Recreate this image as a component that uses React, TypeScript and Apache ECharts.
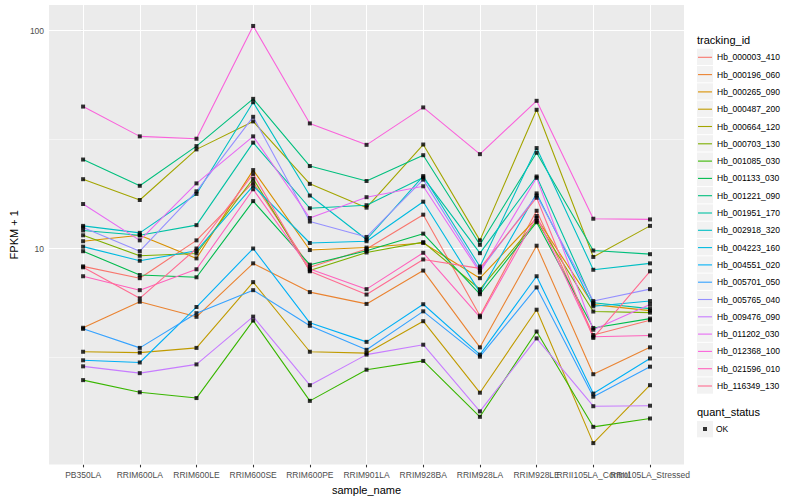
import React, { useEffect, useRef } from "react";
import * as echarts from "echarts";

const samples = [
  "PB350LA", "RRIM600LA", "RRIM600LE", "RRIM600SE", "RRIM600PE", "RRIM901LA",
  "RRIM928BA", "RRIM928LA", "RRIM928LE", "RRII105LA_Control", "RRII105LA_Stressed",
];

const trackingIds = [
  "Hb_000003_410", "Hb_000196_060", "Hb_000265_090", "Hb_000487_200", "Hb_000664_120",
  "Hb_000703_130", "Hb_001085_030", "Hb_001133_030", "Hb_001221_090", "Hb_001951_170",
  "Hb_002918_320", "Hb_004223_160", "Hb_004551_020", "Hb_005701_050", "Hb_005765_040",
  "Hb_009476_090", "Hb_011202_030", "Hb_012368_100", "Hb_021596_010", "Hb_116349_130",
];

const lineColors = [
  "#F8766D", "#EA8331", "#D89000", "#C09B00", "#A3A500", "#7CAE00", "#39B600", "#00BB4E",
  "#00BF7D", "#00C1A3", "#00BFC4", "#00BAE0", "#00B0F6", "#35A2FF", "#9590FF", "#C77CFF",
  "#E76BF3", "#FA62DB", "#FF62BC", "#FF6C91",
];

// FPKM + 1 per sample (same order as samples)
const hb000003_410 = [8.28, 7.31, 10.9, 20.1, 8.2, 9.95, 14.3, 4.92, 14.9, 4.01, 4.69];
const hb000196_060 = [4.33, 5.7, 4.86, 8.55, 6.31, 5.57, 7.92, 3.52, 10.3, 2.65, 3.52];
const hb000265_090 = [10.8, 11.5, 9.01, 22.9, 9.84, 10.1, 10.6, 7.31, 13.8, 5.53, 5.19];
const hb000487_200 = [3.36, 3.33, 3.5, 7.01, 3.36, 3.31, 4.64, 2.18, 5.24, 1.28, 2.36];
const hb000664_120 = [20.8, 16.7, 28.5, 38.3, 19.8, 15.4, 30.0, 10.9, 43.3, 9.15, 12.7];
const hb000703_130 = [11.5, 9.26, 9.49, 20.9, 7.92, 9.59, 10.7, 6.5, 13.4, 5.14, 5.08];
const hb001085_030 = [2.49, 2.19, 2.06, 4.67, 2.0, 2.78, 3.05, 1.69, 4.16, 1.52, 1.66];
const hb001133_030 = [9.72, 7.56, 7.38, 16.5, 8.43, 9.76, 11.7, 6.17, 13.2, 4.32, 4.77];
const hb001221_090 = [25.6, 19.4, 29.5, 48.6, 23.9, 20.4, 26.8, 10.4, 27.5, 9.79, 9.42];
const hb001951_170 = [12.1, 11.5, 12.8, 30.6, 15.3, 15.8, 21.2, 9.52, 21.4, 5.64, 5.3];
const hb002918_320 = [12.7, 11.8, 17.8, 46.9, 17.5, 11.0, 21.5, 8.27, 28.9, 7.99, 8.55];
const hb004223_160 = [10.2, 8.79, 9.76, 19.4, 10.6, 10.8, 16.4, 6.29, 17.9, 5.43, 5.74];
const hb004551_020 = [3.07, 3.0, 5.39, 10.0, 4.56, 3.73, 5.55, 3.26, 7.46, 2.16, 3.13];
const hb005701_050 = [4.28, 3.5, 5.05, 6.44, 4.42, 3.43, 5.15, 3.19, 6.63, 2.09, 2.87];
const hb005765_040 = [12.5, 9.72, 18.3, 40.2, 13.3, 11.3, 20.7, 7.92, 17.5, 5.74, 6.51];
const hb009476_090 = [2.88, 2.68, 2.94, 4.87, 2.36, 3.26, 3.62, 1.79, 3.87, 1.89, 1.9];
const hb011202_030 = [16.0, 10.9, 19.9, 32.7, 13.8, 17.2, 19.3, 7.76, 21.1, 4.24, 5.53];
const hb012368_100 = [44.8, 32.7, 31.9, 105.0, 37.5, 29.9, 44.4, 27.1, 47.6, 13.7, 13.6];
const hb021596_010 = [7.46, 6.44, 8.03, 18.7, 8.05, 6.51, 9.56, 4.84, 14.1, 3.94, 3.99];
const hb116349_130 = [8.2, 5.91, 10.0, 22.0, 7.86, 6.15, 8.91, 8.11, 17.1, 3.89, 7.86];

const seriesValues = [
  hb000003_410, hb000196_060, hb000265_090, hb000487_200, hb000664_120,
  hb000703_130, hb001085_030, hb001133_030, hb001221_090, hb001951_170,
  hb002918_320, hb004223_160, hb004551_020, hb005701_050, hb005765_040,
  hb009476_090, hb011202_030, hb012368_100, hb021596_010, hb116349_130,
];

const yMajor = [10, 100];
const yMinor = [3.162, 31.62];
const statusLabel = "OK";

const FONT = "'Liberation Sans', Arial, Helvetica, sans-serif";
const LEGEND_LINE_ICON = "path://M0,0 L14,0 L14,1.1 L0,1.1 Z";

export default function App() {
  const ref = useRef<HTMLDivElement>(null);

  useEffect(() => {
    if (!ref.current) return;
    const chart = echarts.init(ref.current, undefined, { renderer: "svg" });
    const xIdx = samples.map((_, i) => i);
    const evenIdx = xIdx.filter((i) => i % 2 === 0);
    const oddIdx = xIdx.filter((i) => i % 2 === 1);

    const lineSeries = trackingIds.map((name, k) => ({
      name,
      type: "line",
      xAxisIndex: 0,
      data: seriesValues[k].map((v, i) => [i, v]),
      symbol: "none",
      lineStyle: { color: lineColors[k], width: 1.1 },
      itemStyle: { color: lineColors[k] },
      z: 2,
      silent: true,
      emphasis: { disabled: true },
    }));

    const pointData: number[][] = [];
    seriesValues.forEach((arr) => arr.forEach((v, i) => pointData.push([i, v])));

    const gridLineData = [
      ...yMajor.map((v) => ({ yAxis: v, lineStyle: { width: 1.07 } })),
      ...yMinor.map((v) => ({ yAxis: v, lineStyle: { width: 0.53 } })),
      ...xIdx.map((i) => ({ xAxis: i, lineStyle: { width: 1.07 } })),
    ];

    const keyRects = trackingIds.map((_, i) => ({
      type: "rect",
      shape: { x: 697, y: 48.7 + 17.3 * i, width: 16, height: 16.3 },
      style: { fill: "#F2F2F2" },
      z: 0,
      silent: true,
    }));

    const makeXAxis = (ticks: number[], withName: boolean) => ({
      type: "value",
      min: -0.6,
      max: 10.6,
      position: "bottom",
      offset: 0,
      name: withName ? "sample_name" : "",
      nameLocation: "middle",
      nameGap: 15,
      nameTextStyle: { fontSize: 11, color: "#000000", fontFamily: FONT },
      axisLine: { show: false },
      axisTick: { show: true, customValues: ticks, length: 2.75, lineStyle: { color: "#333333", width: 1.07 } },
      axisLabel: {
        customValues: ticks,
        formatter: (v: number) => samples[Math.round(v)],
        color: "#4D4D4D",
        fontSize: 8.5,
        margin: 5.5,
        fontFamily: FONT,
        hideOverlap: false,
      },
      splitLine: { show: false },
    });

    chart.setOption({
      animation: false,
      backgroundColor: "#FFFFFF",
      textStyle: { fontFamily: FONT },
      grid: {
        left: 40,
        right: 116,
        top: 5,
        bottom: 31,
        show: true,
        backgroundColor: "#EBEBEB",
        borderWidth: 0,
      },
      xAxis: [makeXAxis(evenIdx, true), makeXAxis(oddIdx, false)],
      yAxis: {
        type: "log",
        logBase: 10,
        min: 1.02,
        max: 131,
        name: "FPKM + 1",
        nameLocation: "middle",
        nameGap: 22,
        nameTextStyle: { fontSize: 11, color: "#000000", fontFamily: FONT },
        axisLine: { show: false },
        axisTick: { show: true, customValues: yMajor, length: 2.75, lineStyle: { color: "#333333", width: 1.07 } },
        axisLabel: {
          customValues: yMajor,
          formatter: (v: number) => String(v),
          color: "#4D4D4D",
          fontSize: 8.5,
          margin: 5,
          fontFamily: FONT,
        },
        splitLine: { show: false },
        minorTick: { show: false },
        minorSplitLine: { show: false },
      },
      legend: [
        {
          orient: "vertical",
          left: 698,
          top: 50.3,
          padding: 0,
          itemWidth: 14,
          itemHeight: 14,
          itemGap: 3.3,
          icon: LEGEND_LINE_ICON,
          data: trackingIds,
          selectedMode: false,
          lineStyle: { width: 1.1 },
          textStyle: { fontSize: 8.5, color: "#000000", fontFamily: FONT, lineHeight: 14 },
        },
        {
          orient: "vertical",
          left: 703,
          top: 423,
          padding: 0,
          itemWidth: 4,
          itemHeight: 4,
          icon: "rect",
          data: [statusLabel],
          selectedMode: false,
          textStyle: { fontSize: 8.5, color: "#000000", fontFamily: FONT, lineHeight: 12, padding: [0, 0, 0, 4] },
        },
      ],
      graphic: [
        ...keyRects,
        {
          type: "rect",
          shape: { x: 697, y: 421, width: 16, height: 16.3 },
          style: { fill: "#F2F2F2" },
          z: 0,
          silent: true,
        },
        {
          type: "text",
          left: 697,
          top: 34.5,
          style: { text: "tracking_id", fontSize: 11, fill: "#000000", fontFamily: FONT },
          z: 5,
        },
        {
          type: "text",
          left: 697,
          top: 406,
          style: { text: "quant_status", fontSize: 11, fill: "#000000", fontFamily: FONT },
          z: 5,
        },
      ],
      series: [
        {
          name: "__grid",
          type: "line",
          xAxisIndex: 0,
          data: [],
          silent: true,
          z: 1,
          markLine: {
            z: 1,
            silent: true,
            symbol: ["none", "none"],
            label: { show: false },
            emphasis: { disabled: true },
            lineStyle: { color: "#FFFFFF", type: "solid", opacity: 1 },
            data: gridLineData,
          },
        },
        ...lineSeries,
        {
          name: statusLabel,
          type: "scatter",
          xAxisIndex: 0,
          data: pointData,
          symbol: "rect",
          symbolSize: 4,
          itemStyle: { color: "#000000" },
          z: 3,
          silent: true,
          emphasis: { disabled: true },
        },
      ],
    });

    return () => chart.dispose();
  }, []);

  return (
    <div
      ref={ref}
      style={{ position: "fixed", left: 0, top: 0, width: 800, height: 500 }}
    />
  );
}
